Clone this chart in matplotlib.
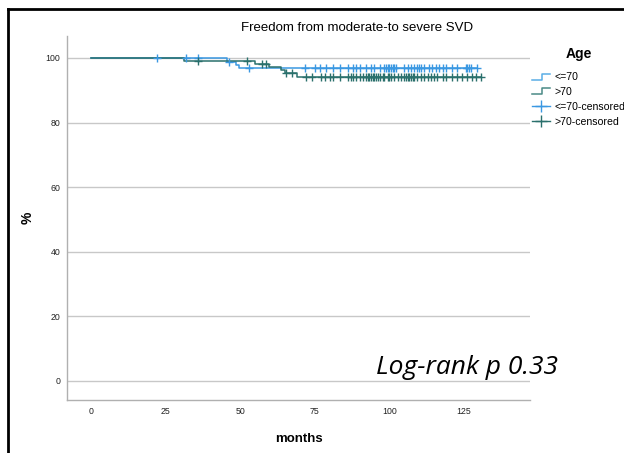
import matplotlib
matplotlib.use("Agg")
import matplotlib.pyplot as plt
import numpy as np
from matplotlib.lines import Line2D
from matplotlib.legend_handler import HandlerBase

# ---------------- data ----------------
title = "Freedom from moderate-to severe SVD"
group_labels = ["<=70", ">70", "<=70-censored", ">70-censored"]

young_step_t = [0, 45.7, 48.7, 49.5]
young_step_s = [100, 98.9, 97.9, 97.0]
young_end = 129.4
young_cens = [22, 32, 36, 46.4, 52.8, 71.7, 75, 76.7, 78.9, 81.1, 83.3, 86.1, 87.8,
              88.9, 90, 92.2, 93.9, 95, 96.7, 98.3, 98.9, 99.4, 100, 100.6, 101.1,
              101.7, 102.2, 105, 106.1, 107.2, 108.3, 109.4, 110, 110.6, 111.7,
              113.3, 114.4, 115.6, 116.7, 117.8, 118.9, 121.1, 122.8, 125.6, 126.1,
              126.7, 127.2, 129.4]

old_step_t = [0, 31.3, 54.9, 59.8, 63.8, 65.0, 68.9]
old_step_s = [100, 99.1, 98.2, 97.2, 96.2, 95.2, 94.1]
old_end = 130.6
old_cens = [36, 52.4, 57.2, 58.8, 65.4, 67.2, 72.2, 73.9, 77.2, 78.3, 80, 81.1, 83.3,
            86.1, 87.2, 87.8, 88.9, 90, 91.1, 92.2, 92.8, 93.3, 93.9, 94.4, 95, 95.6,
            96.1, 96.7, 97.8, 98.3, 99.4, 100, 100.6, 101.7, 102.8, 103.9, 105, 105.6,
            106.1, 106.7, 107.2, 107.8, 108.3, 109.4, 110.6, 111.7, 112.8, 113.9, 115,
            116.1, 117.8, 118.9, 121.1, 122.8, 124.4, 126.1, 127.8, 128.9, 130.6]

xticks = [0, 25, 50, 75, 100, 125]
yticks = [0, 20, 40, 60, 80, 100]
pvalue_text = "Log-rank p 0.33"

c_young = "#3a98e2"
c_old = "#2a706c"
c_young_leg = "#5aaee6"
c_old_leg = "#4a8a86"

plt.rcParams['font.family'] = ['Liberation Sans', 'DejaVu Sans']

fig = plt.figure(figsize=(6.24, 4.53), dpi=100)
ax = fig.add_axes([0.1074, 0.117, 0.742, 0.8035])


def surv_at(t, st, ss):
    idx = np.searchsorted(st, t, side="right") - 1
    return np.array(ss)[idx]


def draw(st, ss, end, cens, color):
    xs = list(st) + [end]
    ys = list(ss) + [ss[-1]]
    ax.step(xs, ys, where="post", color=color, lw=1.1, zorder=3)
    cy = surv_at(np.array(cens), st, ss)
    ax.plot(cens, cy, ls="none", marker="+", ms=6, mew=1.0, color=color, zorder=4)


draw(young_step_t, young_step_s, young_end, young_cens, c_young)
draw(old_step_t, old_step_s, old_end, old_cens, c_old)

ax.set_xlim(-8.0, 147.1)
ax.set_ylim(-5.9, 106.8)
ax.set_xticks(xticks)
ax.set_yticks(yticks)
ax.tick_params(axis="both", length=0, labelsize=6.3, colors="#222222", pad=5)
ax.grid(axis="y", color="#c8c8c8", lw=1.0)
ax.set_axisbelow(True)
for s in ["top", "right"]:
    ax.spines[s].set_visible(False)
for s in ["left", "bottom"]:
    ax.spines[s].set_color("#b0b0b0")
    ax.spines[s].set_linewidth(1.0)

ax.set_xlabel("months", fontsize=9.5, fontweight="bold", labelpad=12)
ax.set_ylabel("%", fontsize=10, fontweight="bold", labelpad=8)

fig.text(357 / 624, 1 - 28 / 453, title, ha="center", va="center", fontsize=9.5)

fig.text(558 / 624, 1 - 368 / 453, pvalue_text, ha="right", va="center",
         fontsize=19, style="italic", family=["Open Sans", "DejaVu Sans"], zorder=5)


class StepHandler(HandlerBase):
    def create_artists(self, legend, orig_handle, xdescent, ydescent, width, height,
                       fontsize, trans):
        w, h = width, height
        xs = [0, w * 0.55, w * 0.55, w]
        ys = [h * 0.1, h * 0.1, h * 0.9, h * 0.9]
        ln = Line2D([x - xdescent for x in xs], [y - ydescent for y in ys],
                    color=orig_handle.get_color(), lw=1.1, transform=trans)
        return [ln]


h1 = Line2D([], [], color=c_young_leg)
h2 = Line2D([], [], color=c_old_leg)
h3 = Line2D([], [], color=c_young, marker="+", ms=9, mew=1.0, lw=1.0)
h4 = Line2D([], [], color=c_old, marker="+", ms=9, mew=1.0, lw=1.0)
leg = fig.legend([h1, h2, h3, h4], group_labels, loc="upper left",
                 bbox_to_anchor=(528 / 624, 1 - 43 / 453), frameon=False,
                 fontsize=7.6, title="Age", handlelength=1.7, handletextpad=0.4,
                 labelspacing=0.45, borderaxespad=0,
                 handler_map={h1: StepHandler(), h2: StepHandler()})
leg.get_title().set_fontweight("bold")
leg.get_title().set_fontsize(10)
leg._legend_box.align = "center"
leg._legend_box.sep = 8

# outer frame (top and left edges visible)
fig.add_artist(Line2D([8 / 624, 1.0], [1 - 9 / 453, 1 - 9 / 453], color="black",
                      lw=2, transform=fig.transFigure))
fig.add_artist(Line2D([8 / 624, 8 / 624], [0, 1 - 9 / 453], color="black",
                      lw=2, transform=fig.transFigure))

fig.savefig("out.png", dpi=100)
